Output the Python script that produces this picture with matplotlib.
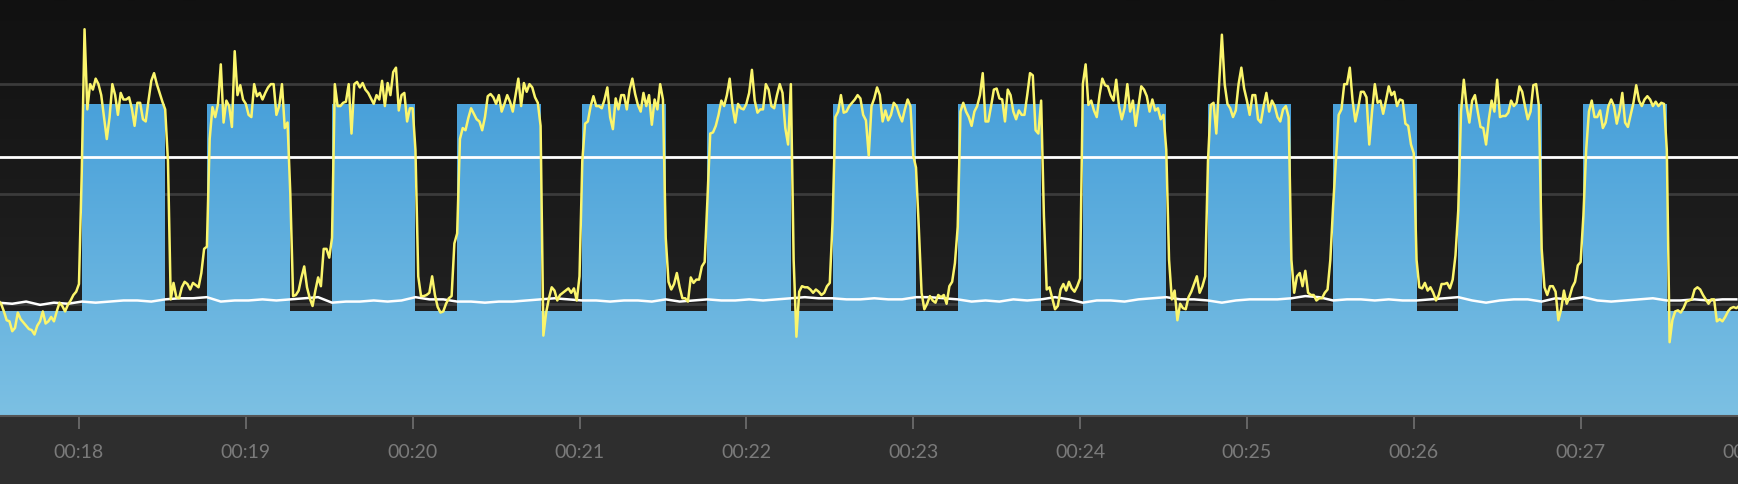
# Interval workout power trace: 13 x 30 s on / 15 s off.

import numpy as np
import matplotlib.pyplot as plt
from matplotlib.colors import LinearSegmentedColormap
from matplotlib.ticker import FuncFormatter

# power samples, one per second starting at t0 (seconds into the ride)
t0 = 1051
warmup_w = [103, 100, 93, 85, 84, 75, 78, 92, 86, 83, 80, 77, 76, 72, 80,
            84, 93, 82, 84, 88, 84, 93, 101, 98, 93, 99, 103, 108, 111, 118]
on_w = [
    [220, 350, 277, 300, 295, 305, 300, 290, 270, 250, 270, 300, 290, 272, 292,
     286, 286, 288, 278, 262, 283, 283, 268, 266, 285, 303, 310, 300, 292, 284],
    [152, 250, 279, 270, 282, 318, 265, 285, 280, 261, 330, 290, 299, 286, 282,
     272, 270, 300, 289, 292, 286, 292, 297, 300, 300, 272, 280, 300, 260, 265],
    [160, 300, 280, 280, 283, 284, 300, 255, 300, 302, 297, 301, 295, 292, 287,
     282, 290, 286, 303, 280, 301, 290, 311, 315, 276, 290, 292, 266, 278, 278],
    [164, 250, 260, 258, 269, 278, 273, 268, 266, 258, 270, 289, 291, 288, 282,
     290, 275, 282, 290, 284, 275, 290, 305, 280, 301, 293, 300, 297, 288, 283],
    [230, 264, 266, 280, 289, 280, 280, 278, 286, 297, 270, 259, 287, 277, 290,
     290, 277, 295, 305, 291, 281, 275, 292, 280, 290, 263, 286, 277, 300, 286],
    [195, 255, 256, 262, 272, 285, 280, 290, 305, 280, 265, 282, 278, 277, 282,
     292, 313, 285, 274, 277, 277, 300, 295, 280, 278, 290, 300, 292, 260, 245],
    [175, 270, 275, 290, 274, 275, 280, 283, 286, 290, 287, 272, 267, 235, 280,
     287, 297, 290, 266, 276, 267, 272, 283, 280, 272, 266, 277, 286, 280, 235],
    [170, 275, 283, 275, 270, 262, 275, 280, 290, 310, 266, 266, 280, 295, 296,
     287, 286, 266, 295, 290, 275, 268, 276, 272, 272, 290, 310, 308, 258, 255],
    [300, 318, 281, 285, 276, 270, 290, 305, 299, 298, 290, 285, 304, 280, 268,
     278, 300, 275, 285, 262, 280, 298, 295, 289, 275, 286, 276, 278, 268, 272],
    [230, 281, 283, 255, 300, 345, 300, 282, 278, 270, 276, 300, 315, 296, 285,
     272, 290, 290, 268, 265, 280, 292, 275, 285, 280, 270, 266, 277, 280, 270],
    [189, 230, 272, 277, 300, 300, 315, 285, 266, 278, 293, 293, 288, 245, 275,
     300, 283, 285, 273, 285, 298, 290, 293, 280, 286, 285, 264, 262, 245, 237],
    [185, 275, 304, 280, 265, 285, 290, 275, 261, 260, 245, 268, 285, 275, 304,
     270, 271, 271, 274, 285, 280, 283, 298, 293, 280, 268, 275, 299, 300, 280],
    [180, 240, 275, 285, 270, 270, 276, 260, 265, 280, 286, 280, 264, 275, 292,
     265, 261, 272, 283, 299, 285, 280, 286, 289, 286, 280, 284, 280, 283, 282],
]
off_w = [
    [277, 230, 104, 119, 106, 105, 115, 120, 118, 113, 119, 117, 115, 128, 150],
    [200, 107, 108, 112, 124, 134, 115, 105, 98, 112, 124, 116, 150, 150, 142],
    [240, 125, 107, 107, 108, 110, 125, 108, 97, 92, 93, 100, 105, 107, 155],
    [262, 71, 92, 105, 115, 112, 103, 108, 110, 112, 114, 110, 114, 103, 125],
    [160, 120, 113, 118, 128, 115, 105, 105, 102, 124, 119, 122, 122, 134, 138],
    [300, 140, 70, 111, 116, 115, 115, 113, 110, 113, 111, 108, 110, 116, 119],
    [224, 170, 110, 95, 100, 107, 103, 101, 108, 106, 108, 100, 116, 120, 137],
    [285, 180, 113, 115, 105, 95, 98, 113, 118, 112, 120, 114, 111, 116, 123],
    [240, 140, 104, 112, 85, 100, 96, 95, 106, 111, 118, 125, 110, 116, 125],
    [140, 110, 125, 128, 116, 130, 110, 108, 108, 103, 105, 105, 110, 113, 140],
    [140, 115, 114, 119, 112, 115, 110, 103, 108, 118, 118, 119, 114, 122, 144],
    [150, 115, 108, 116, 116, 111, 85, 95, 112, 100, 106, 115, 120, 135, 138],
]
cooldown_w = [240, 65, 85, 93, 94, 92, 96, 102, 103, 104, 113, 115, 113, 108,
              104, 100, 104, 104, 84, 86, 84, 88, 93, 96, 97, 96, 98]

# cadence, one sample every 5 s from t0
cad_step = 5
cadence = [101, 100, 102, 99, 101, 100, 102, 101, 102, 103, 103, 102, 104, 105,
           105, 106, 102, 103, 103, 104, 103, 104, 105, 106, 101, 102, 102, 103,
           102, 103, 106, 104, 104, 102, 102, 101, 102, 102, 103, 104, 105, 104,
           103, 103, 102, 103, 103, 102, 104, 102, 103, 104, 103, 103, 104, 103,
           104, 105, 106, 105, 105, 104, 104, 105, 104, 104, 106, 106, 105, 104,
           102, 103, 102, 104, 103, 104, 106, 104, 101, 103, 103, 102, 104, 105,
           106, 104, 104, 103, 101, 103, 104, 104, 104, 105, 107, 106, 103, 104,
           104, 103, 104, 103, 103, 104, 105, 106, 103, 101, 103, 104, 104, 102,
           105, 104, 106, 103, 102, 103, 104, 105, 103, 103, 104, 103, 104, 104]

# workout structure
interval_start = [1081, 1126, 1171, 1216, 1261, 1306, 1351, 1396, 1441, 1486,
                  1531, 1576, 1621]
interval_len = 30
on_target = 282
off_target = 93
ftp = 234

power = list(warmup_w)
for k in range(len(on_w)):
    power += on_w[k]
    if k < len(off_w):
        power += off_w[k]
power += cooldown_w
power = np.array(power)
t = t0 + np.arange(len(power))
t_cad = t0 + cad_step * np.arange(len(cadence))

xmin, xmax = 1051.6, 1676.6
ymin, ymax = -2.2, 376.6

# target step profile
tt = [xmin]
tw = [off_target]
for s in interval_start:
    tt += [s, s + interval_len]
    tw += [on_target, off_target]
tt.append(xmax + 5)
tw.append(off_target)

fig = plt.figure(figsize=(17.38, 4.84), dpi=100, facecolor='#2e2e2e')
ax = fig.add_axes([0, 68 / 484, 1, 416 / 484])

# dark background gradient
bg = LinearSegmentedColormap.from_list('bg', ['#262626', '#111111'])
ax.imshow(np.linspace(0, 1, 256).reshape(-1, 1), cmap=bg, aspect='auto',
          origin='lower', extent=(xmin, xmax, ymin, ymax), zorder=0)

for g in [100, 200, 300]:
    ax.axhline(g, color='#3b3b3b', lw=2, zorder=1)

# blue target area with vertical gradient
poly = ax.fill_between(tt, ymin - 5, tw, step='post', facecolor='none',
                       edgecolor='none')
blue = LinearSegmentedColormap.from_list('blue', ['#7cc0e3', '#49a1da'])
im = ax.imshow(np.linspace(0, 1, 256).reshape(-1, 1), cmap=blue, aspect='auto',
               origin='lower', extent=(xmin, xmax, ymin, on_target), zorder=2)
im.set_clip_path(poly.get_paths()[0], ax.transData)

ax.axhline(ftp, color='white', lw=2, zorder=3)
ax.plot(t_cad, cadence, color='white', lw=1.8, zorder=3)
ax.plot(t, power, color='#fbf56c', lw=1.8, zorder=4)

ax.set_xlim(xmin, xmax)
ax.set_ylim(ymin, ymax)

for s in ['top', 'left', 'right']:
    ax.spines[s].set_visible(False)
ax.spines['bottom'].set_color('#555555')
ax.spines['bottom'].set_linewidth(1.5)
ax.set_yticks([])

ax.set_xticks(np.arange(1080, 1680, 60))
ax.xaxis.set_major_formatter(FuncFormatter(lambda v, p: '00:%02d' % (v // 60)))
ax.tick_params(axis='x', length=9, width=1.4, color='#666666', pad=11,
               labelcolor='#7a7a7a', labelsize=14)
for lab in ax.get_xticklabels():
    lab.set_family('Lato')

# last label sits past the right edge and gets cut off, as in the source
fig.text(1747.5 / 1738, 31 / 484, '00:28', ha='center', va='center',
         color='#7a7a7a', fontsize=14, family='Lato')

fig.savefig('out.png', dpi=100, facecolor=fig.get_facecolor())
